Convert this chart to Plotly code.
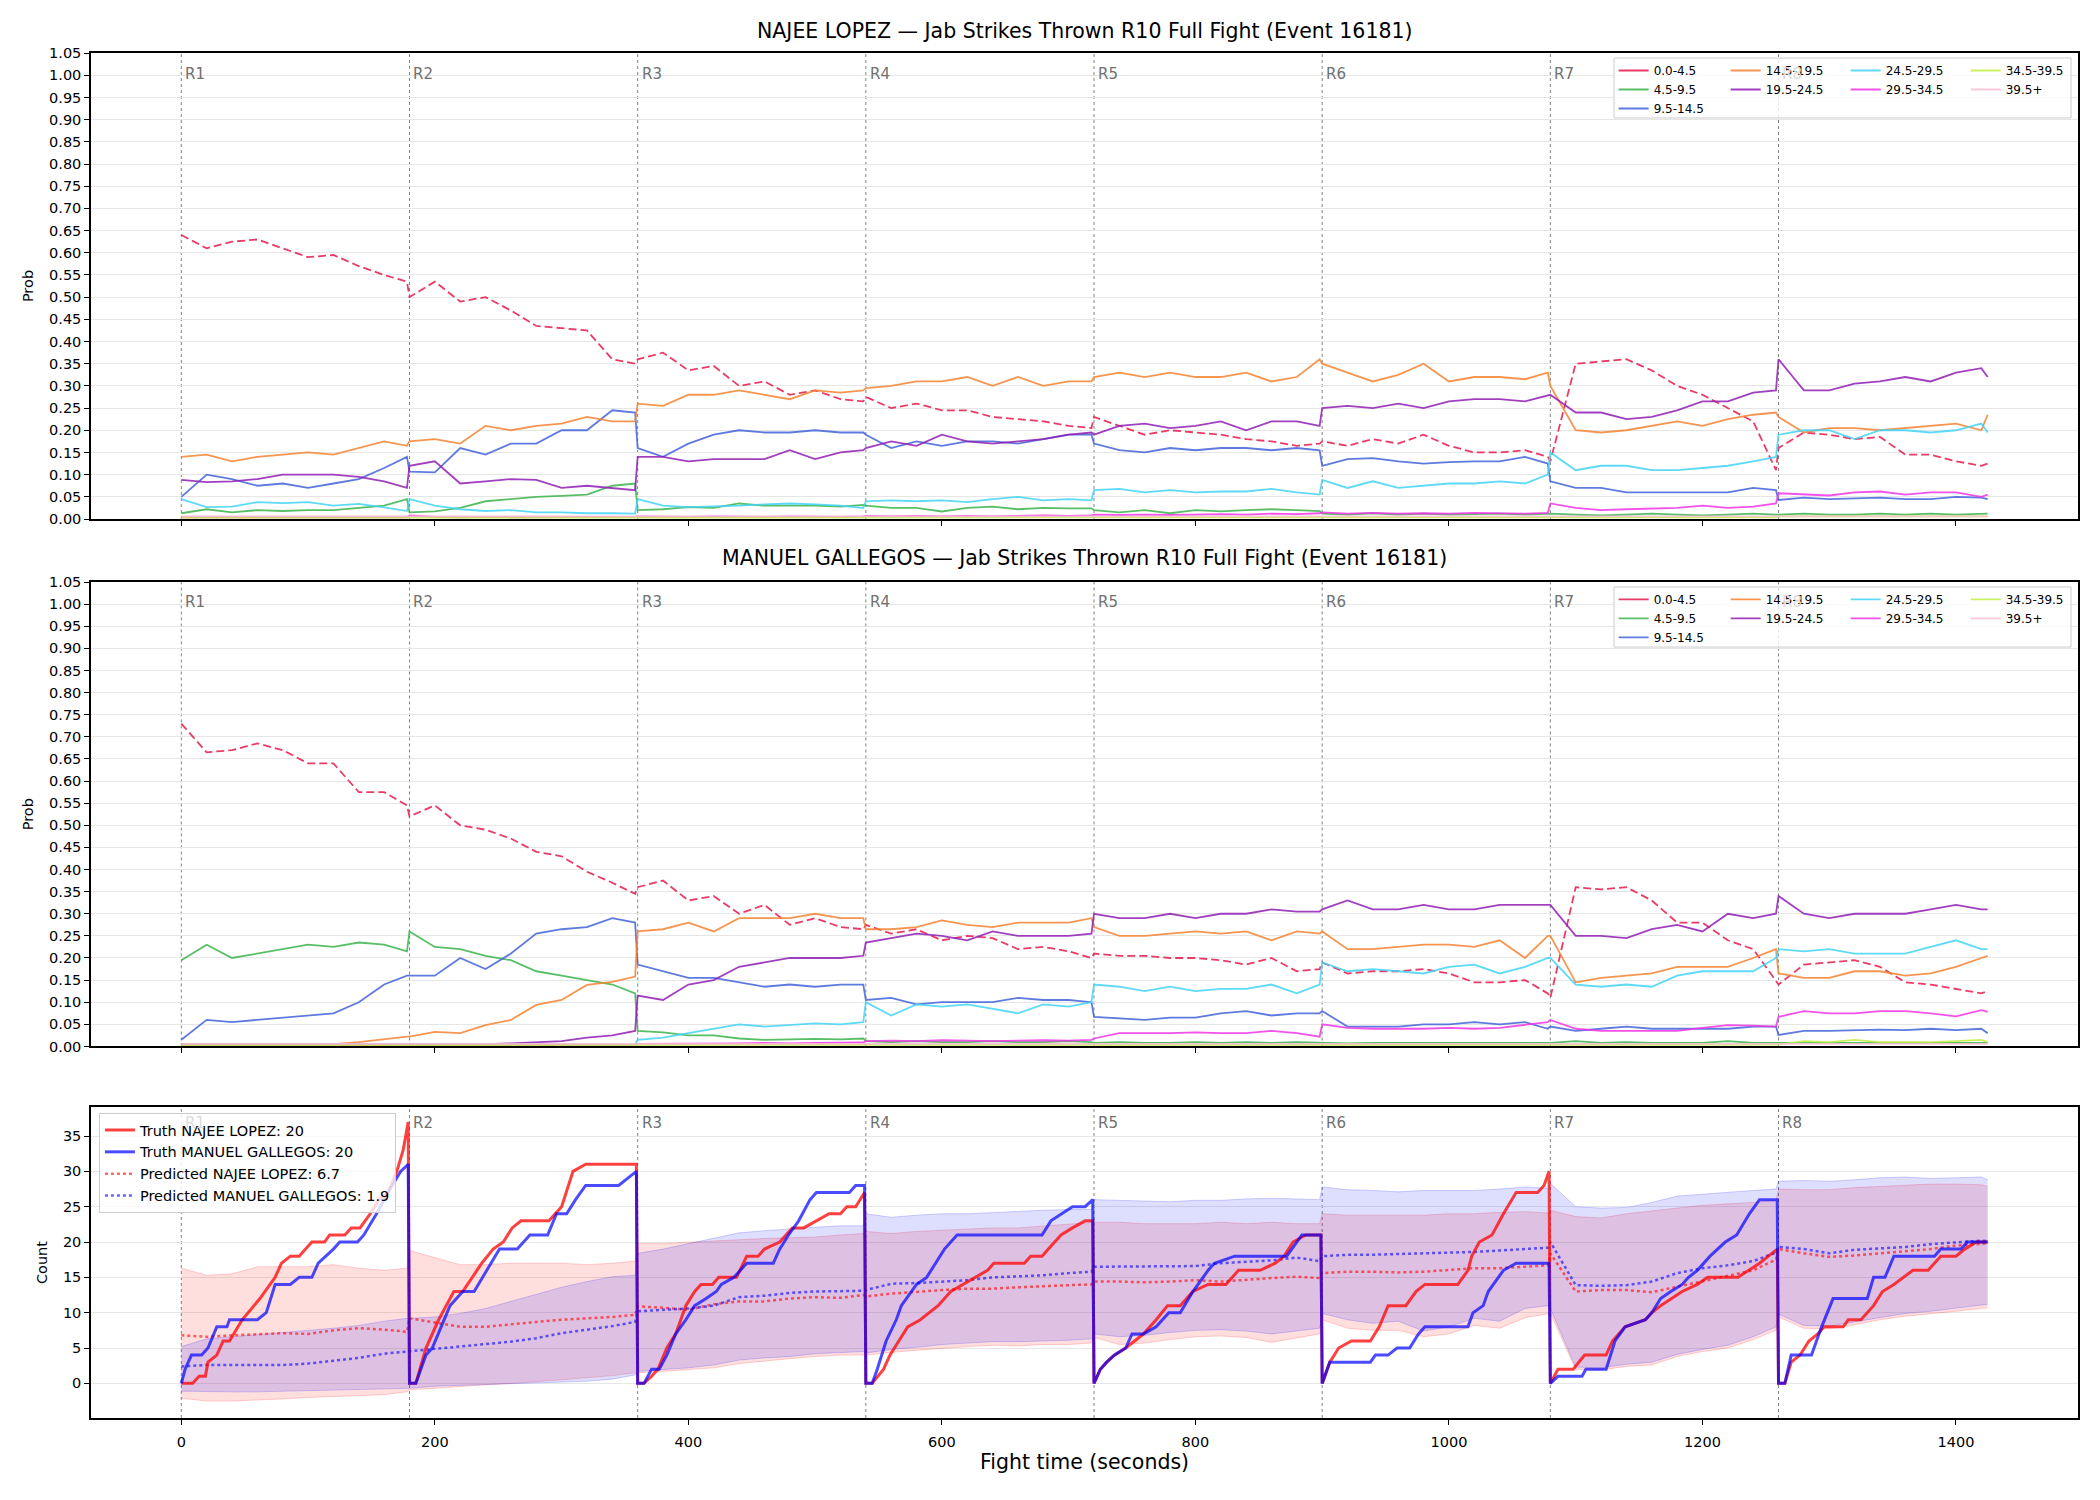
import plotly.graph_objects as go
from plotly.subplots import make_subplots

# ---------------- data ----------------
T = [0, 20, 40, 60, 80, 100, 120, 140, 160, 178,
     180, 200, 220, 240, 260, 280, 300, 320, 340, 358,
     360, 380, 400, 420, 440, 460, 480, 500, 520, 538,
     540, 560, 580, 600, 620, 640, 660, 680, 700, 718,
     720, 740, 760, 780, 800, 820, 840, 860, 880, 898,
     900, 920, 940, 960, 980, 1000, 1020, 1040, 1060, 1078,
     1080, 1100, 1120, 1140, 1160, 1180, 1200, 1220, 1240, 1258,
     1260, 1280, 1300, 1320, 1340, 1360, 1380, 1400, 1420, 1425]

ROUND_STARTS = [0, 180, 360, 540, 720, 900, 1080, 1260]
ROUND_LABELS = ["R1", "R2", "R3", "R4", "R5", "R6", "R7", "R8"]
X_TICKS = [0, 200, 400, 600, 800, 1000, 1200, 1400]
PROB_TICKS = [0.00, 0.05, 0.10, 0.15, 0.20, 0.25, 0.30, 0.35, 0.40, 0.45, 0.50,
              0.55, 0.60, 0.65, 0.70, 0.75, 0.80, 0.85, 0.90, 0.95, 1.00, 1.05]
COUNT_TICKS = [0, 5, 10, 15, 20, 25, 30, 35]

BINS = ["0.0-4.5", "4.5-9.5", "9.5-14.5", "14.5-19.5", "19.5-24.5",
        "24.5-29.5", "29.5-34.5", "34.5-39.5", "39.5+"]
BIN_COLORS = ["#e6194B", "#3cb44b", "#4363d8", "#f58231", "#911eb4",
              "#42d4f4", "#f032e6", "#bfef45", "#fabed4"]

# NAJEE LOPEZ probabilities
NL_0_45 = [0.64, 0.61, 0.625, 0.63, 0.61, 0.59, 0.595, 0.57, 0.55, 0.535,
           0.50, 0.535, 0.49, 0.50, 0.47, 0.435, 0.43, 0.425, 0.36, 0.35,
           0.36, 0.375, 0.335, 0.345, 0.30, 0.31, 0.28, 0.29, 0.27, 0.265,
           0.275, 0.25, 0.26, 0.245, 0.245, 0.23, 0.225, 0.22, 0.21, 0.205,
           0.23, 0.21, 0.19, 0.20, 0.195, 0.19, 0.18, 0.175, 0.165, 0.17,
           0.175, 0.165, 0.18, 0.17, 0.19, 0.165, 0.15, 0.15, 0.155, 0.14,
           0.13, 0.35, 0.355, 0.36, 0.335, 0.30, 0.28, 0.25, 0.22, 0.11,
           0.16, 0.195, 0.19, 0.18, 0.185, 0.145, 0.145, 0.13, 0.12, 0.125]
NL_45_95 = [0.013, 0.022, 0.015, 0.02, 0.018, 0.02, 0.02, 0.025, 0.03, 0.045,
            0.015, 0.017, 0.025, 0.04, 0.045, 0.05, 0.052, 0.055, 0.075, 0.08,
            0.02, 0.022, 0.027, 0.025, 0.035, 0.03, 0.03, 0.03, 0.028, 0.032,
            0.03, 0.025, 0.025, 0.017, 0.025, 0.028, 0.022, 0.025, 0.024, 0.024,
            0.02, 0.015, 0.02, 0.013, 0.02, 0.017, 0.02, 0.022, 0.02, 0.018,
            0.012, 0.01, 0.013, 0.01, 0.012, 0.01, 0.011, 0.012, 0.01, 0.012,
            0.012, 0.01, 0.008, 0.01, 0.012, 0.01, 0.008, 0.01, 0.012, 0.01,
            0.01, 0.012, 0.01, 0.01, 0.012, 0.01, 0.012, 0.01, 0.012, 0.012]
NL_95_145 = [0.05, 0.10, 0.09, 0.075, 0.08, 0.07, 0.08, 0.09, 0.115, 0.14,
             0.107, 0.105, 0.16, 0.145, 0.17, 0.17, 0.20, 0.20, 0.245, 0.24,
             0.16, 0.14, 0.17, 0.19, 0.20, 0.195, 0.195, 0.20, 0.195, 0.195,
             0.19, 0.16, 0.175, 0.165, 0.175, 0.175, 0.17, 0.18, 0.19, 0.19,
             0.17, 0.155, 0.15, 0.16, 0.155, 0.16, 0.16, 0.155, 0.16, 0.155,
             0.12, 0.135, 0.137, 0.13, 0.125, 0.128, 0.13, 0.13, 0.14, 0.125,
             0.085, 0.07, 0.07, 0.06, 0.06, 0.06, 0.06, 0.06, 0.07, 0.065,
             0.043, 0.048, 0.045, 0.047, 0.048, 0.045, 0.045, 0.05, 0.048, 0.045]
NL_145_195 = [0.14, 0.145, 0.13, 0.14, 0.145, 0.15, 0.145, 0.16, 0.175, 0.165,
              0.175, 0.18, 0.17, 0.21, 0.20, 0.21, 0.215, 0.23, 0.22, 0.22,
              0.26, 0.255, 0.28, 0.28, 0.29, 0.28, 0.27, 0.29, 0.285, 0.29,
              0.295, 0.30, 0.31, 0.31, 0.32, 0.30, 0.32, 0.30, 0.31, 0.31,
              0.32, 0.33, 0.32, 0.33, 0.32, 0.32, 0.33, 0.31, 0.32, 0.36,
              0.35, 0.33, 0.31, 0.325, 0.35, 0.31, 0.32, 0.32, 0.315, 0.33,
              0.30, 0.20, 0.195, 0.20, 0.21, 0.22, 0.21, 0.225, 0.235, 0.24,
              0.23, 0.195, 0.205, 0.205, 0.20, 0.205, 0.21, 0.215, 0.20, 0.235]
NL_195_245 = [0.088, 0.083, 0.085, 0.09, 0.10, 0.10, 0.10, 0.095, 0.085, 0.07,
              0.12, 0.13, 0.08, 0.085, 0.09, 0.088, 0.07, 0.075, 0.07, 0.065,
              0.14, 0.14, 0.13, 0.135, 0.135, 0.135, 0.155, 0.135, 0.15, 0.155,
              0.16, 0.175, 0.165, 0.19, 0.175, 0.17, 0.175, 0.18, 0.19, 0.195,
              0.19, 0.21, 0.215, 0.205, 0.21, 0.22, 0.20, 0.22, 0.22, 0.21,
              0.25, 0.255, 0.25, 0.26, 0.25, 0.265, 0.27, 0.27, 0.265, 0.28,
              0.28, 0.24, 0.24, 0.225, 0.23, 0.245, 0.265, 0.265, 0.285, 0.29,
              0.36, 0.29, 0.29, 0.305, 0.31, 0.32, 0.31, 0.33, 0.34, 0.32]
NL_245_295 = [0.045, 0.027, 0.028, 0.038, 0.036, 0.038, 0.03, 0.034, 0.026, 0.018,
              0.045, 0.03, 0.022, 0.018, 0.02, 0.015, 0.015, 0.013, 0.013, 0.012,
              0.045, 0.03, 0.027, 0.028, 0.03, 0.033, 0.035, 0.033, 0.03, 0.025,
              0.04, 0.042, 0.04, 0.042, 0.038, 0.045, 0.05, 0.042, 0.045, 0.042,
              0.065, 0.068, 0.06, 0.065, 0.06, 0.062, 0.062, 0.068, 0.06, 0.055,
              0.088, 0.07, 0.085, 0.07, 0.075, 0.08, 0.08, 0.085, 0.08, 0.10,
              0.15, 0.11, 0.12, 0.12, 0.11, 0.11, 0.115, 0.12, 0.13, 0.14,
              0.19, 0.20, 0.20, 0.18, 0.20, 0.20, 0.195, 0.20, 0.215, 0.195]
NL_295_345 = [0.004, 0.004, 0.005, 0.004, 0.004, 0.005, 0.004, 0.004, 0.005, 0.004,
              0.008, 0.005, 0.004, 0.005, 0.004, 0.004, 0.005, 0.004, 0.004, 0.005,
              0.006, 0.005, 0.005, 0.006, 0.005, 0.005, 0.006, 0.005, 0.005, 0.006,
              0.007, 0.006, 0.007, 0.006, 0.007, 0.006, 0.007, 0.008, 0.007, 0.008,
              0.010, 0.009, 0.010, 0.009, 0.010, 0.011, 0.010, 0.012, 0.011, 0.013,
              0.015, 0.012, 0.014, 0.012, 0.013, 0.012, 0.014, 0.013, 0.012, 0.014,
              0.035, 0.025, 0.02, 0.022, 0.023, 0.025, 0.03, 0.025, 0.028, 0.035,
              0.058, 0.055, 0.053, 0.06, 0.062, 0.055, 0.06, 0.06, 0.05, 0.055]
NL_345_395 = [0.003, 0.003, 0.003, 0.003, 0.003, 0.003, 0.003, 0.003, 0.003, 0.003,
              0.003, 0.003, 0.003, 0.003, 0.003, 0.003, 0.003, 0.003, 0.003, 0.003,
              0.003, 0.003, 0.003, 0.003, 0.003, 0.003, 0.003, 0.003, 0.003, 0.003,
              0.003, 0.003, 0.003, 0.003, 0.003, 0.003, 0.003, 0.003, 0.003, 0.003,
              0.003, 0.003, 0.003, 0.003, 0.003, 0.003, 0.003, 0.003, 0.003, 0.003,
              0.003, 0.003, 0.003, 0.003, 0.003, 0.003, 0.003, 0.003, 0.003, 0.003,
              0.004, 0.004, 0.004, 0.004, 0.004, 0.004, 0.004, 0.004, 0.004, 0.004,
              0.006, 0.006, 0.006, 0.006, 0.006, 0.006, 0.006, 0.006, 0.006, 0.006]
NL_395P = [0.006, 0.006, 0.006, 0.006, 0.006, 0.006, 0.006, 0.006, 0.006, 0.006,
           0.006, 0.006, 0.006, 0.006, 0.006, 0.006, 0.006, 0.006, 0.006, 0.006,
           0.006, 0.006, 0.006, 0.006, 0.006, 0.006, 0.006, 0.006, 0.006, 0.006,
           0.006, 0.006, 0.006, 0.006, 0.006, 0.006, 0.006, 0.006, 0.006, 0.006,
           0.006, 0.006, 0.006, 0.006, 0.006, 0.006, 0.006, 0.006, 0.006, 0.006,
           0.006, 0.006, 0.006, 0.006, 0.006, 0.006, 0.006, 0.006, 0.006, 0.006,
           0.006, 0.006, 0.006, 0.006, 0.006, 0.006, 0.006, 0.006, 0.006, 0.006,
           0.006, 0.006, 0.006, 0.006, 0.006, 0.006, 0.006, 0.006, 0.006, 0.006]

# MANUEL GALLEGOS probabilities
MG_0_45 = [0.73, 0.665, 0.67, 0.685, 0.67, 0.64, 0.64, 0.575, 0.575, 0.545,
           0.52, 0.545, 0.50, 0.49, 0.47, 0.44, 0.43, 0.395, 0.37, 0.345,
           0.36, 0.375, 0.33, 0.34, 0.30, 0.32, 0.275, 0.29, 0.27, 0.265,
           0.275, 0.255, 0.265, 0.24, 0.25, 0.245, 0.22, 0.225, 0.215, 0.20,
           0.21, 0.205, 0.205, 0.20, 0.20, 0.195, 0.185, 0.20, 0.17, 0.175,
           0.19, 0.165, 0.17, 0.17, 0.175, 0.165, 0.145, 0.145, 0.15, 0.12,
           0.11, 0.36, 0.355, 0.36, 0.33, 0.28, 0.28, 0.24, 0.22, 0.15,
           0.14, 0.185, 0.19, 0.195, 0.18, 0.145, 0.14, 0.13, 0.12, 0.125]
MG_45_95 = [0.195, 0.23, 0.20, 0.21, 0.22, 0.23, 0.225, 0.235, 0.23, 0.215,
            0.26, 0.225, 0.22, 0.205, 0.195, 0.17, 0.16, 0.15, 0.14, 0.12,
            0.035, 0.032, 0.025, 0.025, 0.018, 0.015, 0.016, 0.017, 0.016, 0.018,
            0.012, 0.01, 0.012, 0.01, 0.01, 0.012, 0.01, 0.01, 0.012, 0.01,
            0.008, 0.01, 0.008, 0.008, 0.01, 0.008, 0.01, 0.008, 0.01, 0.008,
            0.008, 0.007, 0.008, 0.008, 0.007, 0.008, 0.007, 0.008, 0.008, 0.007,
            0.008, 0.012, 0.008, 0.01, 0.008, 0.008, 0.008, 0.012, 0.008, 0.008,
            0.008, 0.007, 0.008, 0.008, 0.007, 0.008, 0.007, 0.008, 0.008, 0.008]
MG_95_145 = [0.015, 0.06, 0.055, 0.06, 0.065, 0.07, 0.075, 0.10, 0.14, 0.16,
             0.16, 0.16, 0.20, 0.175, 0.21, 0.255, 0.265, 0.27, 0.29, 0.28,
             0.185, 0.17, 0.155, 0.155, 0.145, 0.135, 0.14, 0.135, 0.14, 0.14,
             0.105, 0.11, 0.095, 0.10, 0.10, 0.10, 0.11, 0.105, 0.105, 0.10,
             0.067, 0.063, 0.06, 0.065, 0.065, 0.075, 0.08, 0.07, 0.075, 0.075,
             0.08, 0.045, 0.045, 0.045, 0.05, 0.05, 0.055, 0.05, 0.055, 0.04,
             0.045, 0.035, 0.04, 0.045, 0.04, 0.04, 0.04, 0.04, 0.045, 0.045,
             0.026, 0.035, 0.035, 0.037, 0.038, 0.037, 0.04, 0.037, 0.04, 0.03]
MG_145_195 = [0.005, 0.005, 0.005, 0.005, 0.005, 0.005, 0.005, 0.01, 0.017, 0.022,
              0.022, 0.033, 0.03, 0.048, 0.06, 0.094, 0.105, 0.139, 0.146, 0.158,
              0.26, 0.265, 0.28, 0.26, 0.29, 0.29, 0.29, 0.30, 0.29, 0.29,
              0.265, 0.265, 0.27, 0.285, 0.275, 0.27, 0.28, 0.28, 0.28, 0.29,
              0.27, 0.25, 0.25, 0.255, 0.26, 0.255, 0.26, 0.24, 0.26, 0.255,
              0.26, 0.22, 0.22, 0.225, 0.23, 0.23, 0.225, 0.24, 0.20, 0.25,
              0.25, 0.145, 0.155, 0.16, 0.165, 0.18, 0.18, 0.18, 0.20, 0.22,
              0.165, 0.155, 0.155, 0.17, 0.17, 0.16, 0.165, 0.18, 0.20, 0.205]
MG_195_245 = [0.005, 0.005, 0.005, 0.005, 0.005, 0.005, 0.005, 0.005, 0.005, 0.005,
              0.005, 0.005, 0.005, 0.005, 0.007, 0.01, 0.012, 0.02, 0.025, 0.035,
              0.115, 0.105, 0.14, 0.15, 0.18, 0.19, 0.20, 0.20, 0.20, 0.205,
              0.235, 0.245, 0.255, 0.25, 0.24, 0.26, 0.25, 0.25, 0.25, 0.255,
              0.30, 0.29, 0.29, 0.30, 0.29, 0.30, 0.30, 0.31, 0.305, 0.305,
              0.31, 0.33, 0.31, 0.31, 0.32, 0.31, 0.31, 0.32, 0.32, 0.32,
              0.32, 0.25, 0.25, 0.245, 0.265, 0.275, 0.26, 0.30, 0.29, 0.30,
              0.34, 0.30, 0.29, 0.30, 0.30, 0.30, 0.31, 0.32, 0.31, 0.31]
MG_245_295 = [0.004, 0.004, 0.004, 0.004, 0.004, 0.004, 0.004, 0.004, 0.004, 0.004,
              0.004, 0.004, 0.004, 0.004, 0.004, 0.004, 0.004, 0.004, 0.004, 0.005,
              0.015, 0.02, 0.03, 0.04, 0.05, 0.045, 0.048, 0.052, 0.05, 0.055,
              0.10, 0.07, 0.095, 0.09, 0.095, 0.085, 0.075, 0.095, 0.09, 0.10,
              0.14, 0.135, 0.125, 0.135, 0.125, 0.13, 0.13, 0.14, 0.12, 0.14,
              0.19, 0.17, 0.175, 0.17, 0.165, 0.18, 0.185, 0.165, 0.18, 0.20,
              0.20, 0.14, 0.135, 0.14, 0.135, 0.16, 0.17, 0.17, 0.17, 0.20,
              0.22, 0.215, 0.22, 0.21, 0.21, 0.21, 0.225, 0.24, 0.22, 0.22]
MG_295_345 = [0.003, 0.003, 0.003, 0.003, 0.003, 0.003, 0.003, 0.003, 0.003, 0.003,
              0.004, 0.004, 0.004, 0.004, 0.004, 0.004, 0.004, 0.004, 0.004, 0.004,
              0.006, 0.006, 0.007, 0.006, 0.007, 0.008, 0.007, 0.008, 0.008, 0.009,
              0.012, 0.013, 0.012, 0.014, 0.013, 0.012, 0.013, 0.014, 0.013, 0.015,
              0.018, 0.03, 0.03, 0.03, 0.032, 0.03, 0.03, 0.035, 0.03, 0.022,
              0.05, 0.042, 0.04, 0.04, 0.04, 0.042, 0.04, 0.042, 0.048, 0.055,
              0.06, 0.04, 0.035, 0.035, 0.035, 0.035, 0.042, 0.048, 0.047, 0.045,
              0.067, 0.08, 0.075, 0.075, 0.08, 0.08, 0.075, 0.068, 0.082, 0.078]
MG_345_395 = [0.003, 0.003, 0.003, 0.003, 0.003, 0.003, 0.003, 0.003, 0.003, 0.003,
              0.003, 0.003, 0.003, 0.003, 0.003, 0.003, 0.003, 0.003, 0.003, 0.003,
              0.003, 0.003, 0.003, 0.003, 0.003, 0.003, 0.003, 0.003, 0.003, 0.003,
              0.003, 0.003, 0.003, 0.003, 0.003, 0.003, 0.003, 0.003, 0.003, 0.003,
              0.003, 0.003, 0.003, 0.003, 0.003, 0.003, 0.003, 0.003, 0.003, 0.003,
              0.003, 0.003, 0.003, 0.003, 0.003, 0.003, 0.003, 0.003, 0.003, 0.003,
              0.004, 0.004, 0.004, 0.004, 0.004, 0.004, 0.004, 0.004, 0.004, 0.004,
              0.004, 0.012, 0.01, 0.015, 0.01, 0.01, 0.01, 0.012, 0.015, 0.01]
MG_395P = [0.006, 0.006, 0.006, 0.006, 0.006, 0.006, 0.006, 0.006, 0.006, 0.006,
           0.006, 0.006, 0.006, 0.006, 0.006, 0.006, 0.006, 0.006, 0.006, 0.006,
           0.006, 0.006, 0.006, 0.006, 0.006, 0.006, 0.006, 0.006, 0.006, 0.006,
           0.006, 0.006, 0.006, 0.006, 0.006, 0.006, 0.006, 0.006, 0.006, 0.006,
           0.006, 0.006, 0.006, 0.006, 0.006, 0.006, 0.006, 0.006, 0.006, 0.006,
           0.006, 0.006, 0.006, 0.006, 0.006, 0.006, 0.006, 0.006, 0.006, 0.006,
           0.006, 0.006, 0.006, 0.006, 0.006, 0.006, 0.006, 0.006, 0.006, 0.006,
           0.006, 0.006, 0.006, 0.006, 0.006, 0.006, 0.006, 0.006, 0.006, 0.006]

# Count panel: predictions and intervals (on the T grid)
PRED_NL = [6.8, 6.6, 6.8, 7.0, 7.1, 7.0, 7.5, 7.8, 7.6, 7.3,
           9.2, 8.6, 8.0, 8.0, 8.4, 8.7, 9.0, 9.2, 9.4, 9.7,
           10.9, 10.7, 10.4, 11.2, 11.6, 11.6, 12.0, 12.2, 12.1, 12.5,
           12.3, 12.7, 13.0, 13.2, 13.4, 13.4, 13.6, 13.7, 13.9, 14.0,
           14.4, 14.4, 14.3, 14.4, 14.6, 14.4, 14.7, 14.9, 15.1, 14.9,
           15.6, 15.8, 15.8, 15.7, 15.8, 16.0, 16.3, 16.3, 16.5, 16.7,
           18.4, 13.0, 13.2, 13.2, 12.9, 13.7, 14.4, 15.3, 16.0, 17.5,
           19.0, 18.4, 17.9, 18.1, 18.4, 18.6, 19.0, 19.5, 19.8, 19.8]
PRED_MG = [2.4, 2.6, 2.6, 2.6, 2.6, 2.8, 3.2, 3.6, 4.2, 4.5,
           4.5, 4.9, 5.2, 5.5, 5.9, 6.4, 7.1, 7.6, 8.1, 8.7,
           10.2, 10.4, 10.6, 11.0, 12.2, 12.4, 12.8, 13.0, 13.0, 13.1,
           13.2, 14.1, 14.2, 14.4, 14.6, 15.0, 15.1, 15.3, 15.6, 15.8,
           16.5, 16.5, 16.5, 16.5, 16.6, 17.0, 17.2, 17.4, 17.8, 17.3,
           18.0, 18.2, 18.2, 18.3, 18.3, 18.5, 18.6, 18.8, 19.0, 19.2,
           20.0, 13.9, 13.8, 13.9, 14.4, 15.6, 16.3, 16.7, 17.3, 18.5,
           19.3, 19.0, 18.4, 18.9, 19.1, 19.3, 19.7, 20.0, 20.2, 20.1]
NL_LO = [-2.1, -2.5, -2.5, -2.4, -2.2, -2.0, -1.9, -1.8, -1.6, -1.2,
         -0.9, -0.7, -0.4, -0.2, 0.0, 0.2, 0.5, 0.8, 1.1, 1.5,
         1.5, 1.7, 1.9, 2.2, 2.8, 3.2, 3.5, 3.8, 4.0, 4.0,
         4.0, 4.4, 4.7, 5.0, 5.2, 5.4, 5.3, 5.5, 5.5, 5.7,
         6.5, 5.5, 5.7, 6.2, 6.6, 6.7, 6.5, 5.8, 6.4, 7.0,
         9.0, 7.8, 7.5, 7.5, 6.6, 7.0, 8.2, 7.8, 9.3, 9.8,
         9.9, 2.0, 1.9, 2.4, 2.6, 3.8, 4.5, 5.0, 6.2, 7.5,
         9.4, 7.8, 7.7, 8.3, 9.0, 9.5, 9.8, 10.2, 10.6, 10.7]
NL_HI = [16.3, 15.3, 15.5, 16.5, 16.5, 16.5, 16.8, 16.3, 16.0, 16.3,
         18.8, 17.8, 16.8, 16.8, 17.0, 17.0, 17.0, 16.8, 17.0, 17.3,
         19.8, 19.8, 20.0, 20.1, 20.3, 20.5, 20.6, 20.7, 21.0, 21.2,
         21.5, 21.2, 21.5, 21.7, 21.8, 22.0, 22.0, 22.3, 22.5, 22.8,
         22.8, 22.8, 22.6, 22.6, 22.6, 22.8, 22.6, 22.8, 22.6, 22.6,
         24.0, 23.8, 23.8, 23.8, 23.8, 24.0, 24.0, 24.2, 24.3, 24.1,
         24.5, 23.6, 23.4, 24.0, 24.4, 24.9, 25.2, 25.4, 25.6, 25.9,
         27.5, 27.4, 27.4, 27.7, 27.9, 28.0, 28.2, 28.2, 28.1, 27.9]
MG_LO = [-1.1, -1.2, -1.2, -1.2, -1.1, -1.1, -1.0, -0.9, -0.8, -0.7,
         -0.7, -0.4, -0.3, -0.2, -0.1, 0.0, 0.1, 0.3, 0.6, 1.2,
         1.7, 1.9, 2.2, 2.6, 3.3, 3.6, 3.8, 4.2, 4.4, 4.5,
         4.3, 4.8, 5.1, 5.5, 5.7, 5.9, 5.9, 6.0, 6.1, 6.3,
         7.0, 6.6, 6.8, 7.2, 7.5, 7.6, 7.4, 7.0, 7.4, 7.8,
         9.9, 9.0, 8.5, 8.8, 7.4, 8.0, 9.2, 8.8, 10.6, 11.0,
         10.6, 2.3, 2.2, 2.7, 3.0, 4.1, 4.8, 5.4, 6.6, 8.0,
         9.8, 8.2, 8.1, 8.7, 9.4, 9.9, 10.2, 10.6, 11.0, 11.2]
MG_HI = [5.2, 6.3, 6.6, 6.9, 7.1, 7.4, 7.8, 8.2, 8.8, 9.2,
         9.2, 9.4, 9.9, 10.6, 11.6, 12.5, 13.6, 14.4, 15.1, 15.3,
         18.4, 19.0, 19.8, 20.5, 21.3, 21.6, 21.9, 22.1, 22.3, 22.3,
         24.0, 23.5, 23.8, 24.0, 24.0, 24.2, 24.3, 24.5, 24.6, 24.6,
         26.0, 25.9, 25.9, 25.7, 25.9, 25.9, 26.1, 26.2, 26.1, 26.0,
         27.8, 27.4, 27.3, 27.1, 27.3, 27.3, 27.3, 27.5, 27.8, 27.6,
         28.3, 25.0, 24.8, 24.9, 25.6, 26.5, 26.8, 27.0, 27.3, 27.5,
         28.6, 28.7, 28.6, 28.8, 29.1, 29.2, 29.0, 29.1, 29.2, 28.8]

# Truth cumulative counts (time, count) per fighter
TRUTH_NL_T = [0, 9, 14, 19, 21, 28, 33, 38, 48, 62, 74, 79, 86, 93, 98, 103, 113, 117, 129, 134,
              141, 149, 156, 163, 170, 175, 179,
              180, 185, 188, 193, 203, 215, 222, 237, 246, 254, 261, 268, 290, 300, 309, 319, 359,
              360, 365, 371, 376, 383, 390, 398, 405, 410, 419, 424, 438, 446, 455, 460, 472, 482,
              491, 501, 511, 520, 525, 532, 539,
              540, 545, 554, 559, 566, 573, 583, 590, 597, 607, 617, 626, 636, 641, 665, 670, 679,
              684, 694, 703, 713, 719,
              720, 725, 730, 736, 745, 752, 759, 769, 778, 788, 798, 810, 824, 834, 851, 863, 870,
              877, 887, 899,
              900, 906, 913, 923, 938, 945, 952, 966, 974, 981, 1007, 1015, 1018, 1024, 1034, 1043,
              1053, 1070, 1075, 1079,
              1080, 1086, 1098, 1107, 1124, 1129, 1139, 1155, 1160, 1167, 1175, 1184, 1196, 1204,
              1228, 1237, 1245, 1252, 1259,
              1260, 1265, 1270, 1277, 1284, 1291, 1296, 1311, 1315, 1325, 1335, 1342, 1351, 1359,
              1366, 1378, 1388, 1400, 1407, 1416, 1425]
TRUTH_NL_V = [0, 0, 1, 1, 3, 4, 6, 6, 9, 12, 15, 17, 18, 18, 19, 20, 20, 21, 21, 22,
              22, 24, 26, 27, 30, 33, 37,
              0, 0, 2, 5, 9, 13, 13, 17, 19, 20, 22, 23, 23, 25, 30, 31, 31,
              0, 0, 1, 2, 5, 7, 11, 13, 14, 14, 15, 15, 18, 18, 19, 20, 22,
              22, 23, 24, 24, 25, 25, 27,
              0, 0, 2, 4, 6, 8, 9, 10, 11, 13, 14, 15, 16, 17, 17, 18, 18,
              19, 21, 22, 23, 23,
              0, 2, 3, 4, 5, 6, 7, 9, 11, 11, 13, 14, 14, 16, 16, 17, 18,
              20, 21, 21,
              0, 3, 5, 6, 6, 8, 11, 11, 13, 14, 14, 16, 18, 20, 21, 24,
              27, 27, 28, 30,
              0, 2, 2, 4, 4, 6, 8, 9, 10, 11, 12, 13, 14, 15,
              15, 16, 17, 18, 19,
              0, 0, 3, 4, 6, 7, 8, 8, 9, 9, 11, 13, 14, 15,
              16, 16, 18, 18, 19, 20, 20]
TRUTH_MG_T = [0, 3, 8, 16, 21, 28, 36, 38, 60, 67, 74, 86, 93, 103, 108, 120, 125, 139, 144, 154,
              163, 173, 179,
              180, 185, 193, 198, 205, 212, 222, 231, 241, 251, 265, 275, 289, 296, 304, 311, 319,
              345, 352, 359,
              360, 365, 371, 377, 383, 390, 398, 405, 414, 422, 426, 436, 446, 467, 472, 479, 487,
              496, 501, 527, 532, 539,
              540, 545, 549, 556, 564, 568, 580, 588, 595, 602, 612, 679, 686, 694, 703, 713, 719,
              720, 725, 730, 736, 745, 750, 759, 769, 779, 788, 798, 810, 815, 831, 872, 880, 884, 899,
              900, 906, 938, 942, 952, 959, 969, 976, 981, 1015, 1019, 1027, 1031, 1039, 1043, 1053, 1079,
              1080, 1086, 1105, 1108, 1124, 1131, 1139, 1155, 1160, 1167, 1175, 1184, 1189, 1196,
              1206, 1218, 1227, 1237, 1245, 1259,
              1260, 1265, 1270, 1286, 1294, 1303, 1330, 1335, 1344, 1351, 1383, 1388, 1404, 1409, 1425]
TRUTH_MG_V = [0, 2, 4, 4, 5, 8, 8, 9, 9, 10, 14, 14, 15, 15, 17, 19, 20, 20, 21, 24,
              27, 30, 31,
              0, 0, 4, 5, 8, 11, 13, 13, 16, 19, 19, 21, 21, 24, 24, 26, 28,
              28, 29, 30,
              0, 0, 2, 2, 4, 7, 9, 11, 12, 13, 14, 15, 17, 17, 19, 21, 23,
              26, 27, 27, 28, 28,
              0, 0, 2, 6, 9, 11, 14, 15, 17, 19, 21, 21, 23, 24, 25, 25, 26,
              0, 2, 3, 4, 5, 7, 7, 8, 10, 10, 13, 16, 17, 18, 18, 20, 21, 21,
              0, 3, 3, 4, 4, 5, 5, 7, 8, 8, 10, 11, 13, 15, 16, 17, 17,
              0, 1, 1, 2, 2, 6, 8, 9, 10, 12, 13, 14, 15, 16,
              18, 20, 21, 24, 26, 26,
              0, 0, 4, 4, 8, 12, 12, 15, 15, 18, 18, 19, 19, 20, 20]

NL_SERIES = [NL_0_45, NL_45_95, NL_95_145, NL_145_195, NL_195_245,
             NL_245_295, NL_295_345, NL_345_395, NL_395P]
MG_SERIES = [MG_0_45, MG_45_95, MG_95_145, MG_145_195, MG_195_245,
             MG_245_295, MG_295_345, MG_345_395, MG_395P]

TITLE_NL = "NAJEE LOPEZ \u2014 Jab Strikes Thrown R10 Full Fight (Event 16181)"
TITLE_MG = "MANUEL GALLEGOS \u2014 Jab Strikes Thrown R10 Full Fight (Event 16181)"

# ---------------- figure ----------------
FONT = "DejaVu Sans"
XR = [-71.25, 1496.25]
TICK_FS = 14.5
TITLE_FS = 20.5


def rgba(hexc, a):
    h = hexc.lstrip("#")
    return "rgba(%d,%d,%d,%.3f)" % (int(h[0:2], 16), int(h[2:4], 16), int(h[4:6], 16), a)


fig = make_subplots(rows=3, cols=1)

COL_OF_BIN = [0, 0, 0, 1, 1, 2, 2, 3, 3]
for p, series in ((1, NL_SERIES), (2, MG_SERIES)):
    base = 0 if p == 1 else 4
    for i, (lab, col, ys) in enumerate(zip(BINS, BIN_COLORS, series)):
        k = base + COL_OF_BIN[i] + 1
        lg = "legend" if k == 1 else "legend%d" % k
        dashed = (i == 0)
        fig.add_trace(go.Scatter(
            x=T, y=ys, mode="lines", name=lab, legend=lg,
            showlegend=not dashed, hoverinfo="skip",
            line=dict(color=rgba(col, 0.85), width=1.8,
                      dash="8px,4px" if dashed else "solid")),
            row=p, col=1)
        if dashed:
            fig.add_trace(go.Scatter(
                x=[None], y=[None], mode="lines", name=lab, legend=lg,
                showlegend=True, line=dict(color=rgba(col, 0.85), width=1.8)),
                row=p, col=1)

# count panel: bands
fig.add_trace(go.Scatter(x=T, y=NL_LO, mode="lines", showlegend=False, legend="legend9",
                         line=dict(color="rgba(255,0,0,0.18)", width=1), hoverinfo="skip"), row=3, col=1)
fig.add_trace(go.Scatter(x=T, y=NL_HI, mode="lines", showlegend=False, legend="legend9",
                         fill="tonexty", fillcolor="rgba(255,0,0,0.13)",
                         line=dict(color="rgba(255,0,0,0.18)", width=1), hoverinfo="skip"), row=3, col=1)
fig.add_trace(go.Scatter(x=T, y=MG_LO, mode="lines", showlegend=False, legend="legend9",
                         line=dict(color="rgba(0,0,255,0.18)", width=1), hoverinfo="skip"), row=3, col=1)
fig.add_trace(go.Scatter(x=T, y=MG_HI, mode="lines", showlegend=False, legend="legend9",
                         fill="tonexty", fillcolor="rgba(0,0,255,0.13)",
                         line=dict(color="rgba(0,0,255,0.18)", width=1), hoverinfo="skip"), row=3, col=1)
# predictions
fig.add_trace(go.Scatter(x=T, y=PRED_NL, mode="lines", name="Predicted NAJEE LOPEZ: 6.7",
                         legend="legend9", legendrank=3,
                         line=dict(color="rgba(255,0,0,0.6)", width=2.5, dash="dot")), row=3, col=1)
fig.add_trace(go.Scatter(x=T, y=PRED_MG, mode="lines", name="Predicted MANUEL GALLEGOS: 1.9",
                         legend="legend9", legendrank=4,
                         line=dict(color="rgba(0,0,255,0.6)", width=2.5, dash="dot")), row=3, col=1)
# truth
fig.add_trace(go.Scatter(x=TRUTH_NL_T, y=TRUTH_NL_V, mode="lines", name="Truth NAJEE LOPEZ: 20",
                         legend="legend9", legendrank=1,
                         line=dict(color="rgba(255,0,0,0.75)", width=3)), row=3, col=1)
fig.add_trace(go.Scatter(x=TRUTH_MG_T, y=TRUTH_MG_V, mode="lines", name="Truth MANUEL GALLEGOS: 20",
                         legend="legend9", legendrank=2,
                         line=dict(color="rgba(0,0,255,0.7)", width=3)), row=3, col=1)

# axes
axis_common = dict(showline=True, mirror=True, linecolor="black", linewidth=1.5,
                   ticks="outside", ticklen=5, tickwidth=1.2, tickcolor="black",
                   zeroline=False, tickfont=dict(size=TICK_FS, family=FONT, color="black"))
for i in (1, 2, 3):
    fig.update_xaxes(range=XR, showgrid=False, tickvals=X_TICKS,
                     showticklabels=(i == 3), row=i, col=1, **axis_common)
for i in (1, 2):
    fig.update_yaxes(range=[0, 1.0502], tickvals=PROB_TICKS, tickformat=".2f",
                     showgrid=True, gridcolor="#e6e6e6", gridwidth=1,
                     title=dict(text="Prob", font=dict(size=14.5, family=FONT), standoff=12),
                     row=i, col=1, **axis_common)
fig.update_yaxes(range=[-4.9, 39.1], tickvals=COUNT_TICKS,
                 showgrid=True, gridcolor="#e6e6e6", gridwidth=1,
                 title=dict(text="Count", font=dict(size=14.5, family=FONT), standoff=12),
                 row=3, col=1, **axis_common)
fig.update_xaxes(title=dict(text="Fight time (seconds)", font=dict(size=TITLE_FS, family=FONT), standoff=2),
                 ticklabelstandoff=5, row=3, col=1)

# round markers
shapes = []
annotations = []
for p, (xr, yr, ydom) in enumerate((("x", "y domain", 0.956), ("x2", "y2 domain", 0.956),
                                     ("x3", "y3 domain", 0.948)), start=1):
    for rs, rl in zip(ROUND_STARTS, ROUND_LABELS):
        shapes.append(dict(type="line", xref=xr, yref=yr, x0=rs, x1=rs, y0=0, y1=1,
                           line=dict(color="rgba(90,90,90,0.75)", width=1, dash="dot"), layer="below"))
        hidden = (p in (1, 2) and rl == "R8") or (p == 3 and rl == "R1")
        annotations.append(dict(xref=xr, yref=yr, x=rs + 1.5, y=ydom, text=rl, showarrow=False,
                                xanchor="left", yanchor="middle",
                                font=dict(size=15, family=FONT,
                                          color="#dcdcdc" if hidden else "#707070")))

# legend frames for the probability panels
for (y0, y1) in ((0.9524, 0.9963), (0.5648, 0.6088)):
    shapes.append(dict(type="rect", xref="paper", yref="paper", x0=0.7665, x1=0.9965, y0=y0, y1=y1,
                       fillcolor="rgba(255,255,255,0.8)", line=dict(color="#cccccc", width=1),
                       layer="above"))

annotations.append(dict(xref="paper", yref="paper", x=0.5, y=1.0161, text=TITLE_NL, showarrow=False,
                        xanchor="center", yanchor="middle",
                        font=dict(size=TITLE_FS, family=FONT, color="black")))
annotations.append(dict(xref="paper", yref="paper", x=0.5, y=0.6297, text=TITLE_MG, showarrow=False,
                        xanchor="center", yanchor="middle",
                        font=dict(size=TITLE_FS, family=FONT, color="black")))

leg_small = dict(bgcolor="rgba(0,0,0,0)", borderwidth=0, font=dict(size=12, family=FONT, color="black"),
                 xanchor="left", yanchor="top", orientation="v", tracegroupgap=0, traceorder="normal")
col_x = [0.7663, 0.8227, 0.8831, 0.9435]
legends = {}
for k in range(8):
    name = "legend" if k == 0 else "legend%d" % (k + 1)
    ytop = 0.9978 if k < 4 else 0.6103
    legends[name] = dict(x=col_x[k % 4], y=ytop, **leg_small)
legends["legend9"] = dict(x=0.004, y=0.2234, xanchor="left", yanchor="top", traceorder="normal",
                          bgcolor="rgba(255,255,255,0.8)", bordercolor="#cccccc", borderwidth=1,
                          font=dict(size=14.5, family=FONT, color="black"), tracegroupgap=0)

fig.update_layout(
    width=2100, height=1500,
    margin=dict(l=91, r=22, t=53, b=82),
    plot_bgcolor="white", paper_bgcolor="white",
    font=dict(family=FONT, size=13, color="black"),
    showlegend=True,
    shapes=shapes, annotations=annotations,
    **legends,
)
fig.update_layout(
    yaxis=dict(domain=[0.6586, 1.0]),
    yaxis2=dict(domain=[0.2722, 0.6125]),
    yaxis3=dict(domain=[0.0, 0.2278]),
)

fig.write_html("out.html")
